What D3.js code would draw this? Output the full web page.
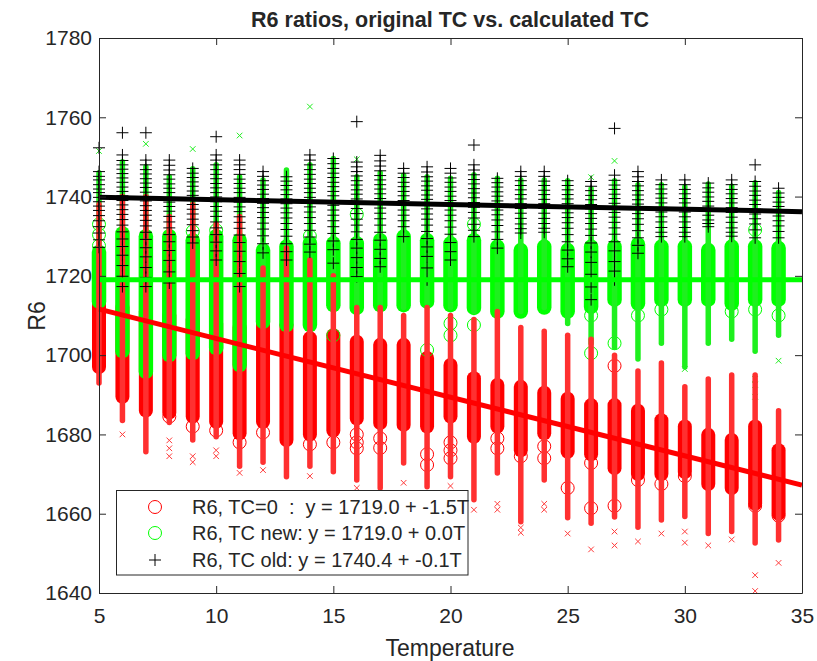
<!DOCTYPE html>
<html>
<head>
<meta charset="utf-8">
<script src="https://cdn.jsdelivr.net/npm/d3@7"></script>
<style>
body { margin: 0; background: #fff; }
text { font-family: "Liberation Sans", Arial, sans-serif; fill: #262626; }
</style>
</head>
<body>
<svg id="chart" width="817" height="661"></svg>
<script>
// temperatures (x categories)
var temps = [5,6,7,8,9,10,11,12,13,14,15,16,17,18,19,20,21,22,23,24,25,26,27,28,29,30,31,32,33,34];

// dense part of the circle columns, [low, high] per temperature
var redBand = [[1697,1715],[1689.5,1712],[1686,1711],[1685.5,1710],[1684.5,1709],[1683.2,1708],[1680.3,1707],[1683.2,1708.5],[1678.6,1707.6],[1680,1704.3],
  [1681,1705],[1684,1703.4],[1682.9,1702.6],[1682.4,1702.6],[1682,1699.3],[1684.5,1697.5],[1679.4,1694.2],[1682,1692.5],[1676,1692],[1680.3,1690.5],
  [1675.6,1689],[1675,1687.4],[1671.5,1687.4],[1670,1686],[1670,1683.6],[1670.5,1682],[1667.5,1679.9],[1666.5,1678.6],[1662.5,1682],[1660,1676]];
var greenBand = [[1713.5,1726],[1701,1730.7],[1695.8,1730],[1700,1730],[1700.5,1729],[1701.8,1730],[1697.5,1729],[1708.4,1726.5],[1707.6,1727.4],[1707.6,1728.3],
  [1712.6,1728.2],[1711.9,1728.2],[1712.6,1729],[1712.6,1729.9],[1713.5,1729],[1712.6,1728.2],[1711.9,1729],[1711,1727.4],[1711,1726.5],[1712,1727.4],
  [1711,1726.5],[1712.2,1727.4],[1714,1727.4],[1713,1728],[1714,1727.4],[1714,1727.4],[1714,1726.5],[1713,1727.4],[1714,1727.4],[1714,1727]];

// dense part of the small x markers, [low, high]
var redXBand = [[1693,1738],[1683.5,1740],[1675.6,1740],[1683,1735],[1678.6,1738],[1679.4,1733],[1672,1735],[1673,1722],[1669.3,1727],[1672,1724],
  [1670.6,1720],[1668.5,1712],[1666.5,1712],[1672.8,1710],[1666.8,1712],[1669.3,1710],[1663.5,1709],[1670.3,1711],[1658,1707],[1668.5,1706],
  [1659,1705],[1657.6,1704],[1659.2,1700],[1656.6,1696],[1658.4,1698],[1659.3,1692],[1655,1694],[1655.5,1695],[1652.6,1695],[1653.4,1686]];
var greenXBand = [[1713,1746],[1701,1748.8],[1696,1747.5],[1700,1745],[1700,1747],[1702,1748],[1698,1745],[1708,1744.2],[1707,1746.7],[1707,1748],
  [1712,1749.6],[1711,1745],[1712,1746],[1712,1745.4],[1713,1745],[1712,1744.6],[1711,1745.5],[1711,1744.6],[1711,1744.2],[1712,1744.2],
  [1708,1744],[1703,1742],[1702,1744],[1699,1743],[1703,1743],[1697,1742.5],[1703,1743.2],[1704,1742.6],[1701,1743.5],[1705,1741]];

// isolated circles
var redOpen = [[],[],[],[1684.5],[1682],[1681],[1678],[1680.5],[],[1677.5],
  [1678],[1680,1678,1676.5],[1679,1676.6],[],[1672.3,1675],[1678,1676,1674],[],[1679,1676.5],[1674.5],[1677,1674],
  [1666.5],[1672.8,1661.4],[1697.3,1662],[1668.5],[1667.5],[1669.5],[],[],[1662],[1659.5]];
var greenOpen = [[1727.6,1730.4,1733],[],[],[],[1731.2],[1731.5],[],[],[],[1730],
  [1705],[1735.5],[],[],[1701.3],[1708,1705],[1733,1707.6],[],[],[],
  [],[1710,1700.5],[1703],[1710],[1711.5],[],[],[1711],[1731.6,1711.5],[1710]];

// isolated x markers
var redCross = [[],[1680],[],[1678.5,1676.5,1674.5],[1674.5,1673],[1676,1674.5],[1670.3],[1671],[],[1669.5],
  [],[1666.5],[1664.5],[1667.8],[1664.5],[1667],[1661],[1662.5,1661],[1656.5,1655.2],[1662.5,1661],
  [1655],[1651],[1655.5,1652],[1653],[1655],[1655.5,1652.7],[1652],[1653.5],[1644.5,1640.5],[1647.6]];
var greenCross = [[1751.5],[],[1753.3],[],[1752],[],[1755.4],[],[],[1762.7],
  [],[1749.4],[],[],[],[],[],[],[],[],
  [],[1744.9],[1749],[],[],[1696.5],[],[],[1694,1692.5,1689.5],[1698.6]];

// TC old values (+ markers)
var blackPlus = [
  [1752.3,1746.3,1745.1,1744.2,1743,1741.9,1741,1739.8,1738.7,1737.6,1736.5,1735.2,1733.9,1732.4,1730.8,1729.1,1727.2],
  [1756.1,1750.5,1749.1,1748,1746.9,1745.8,1744.7,1743.6,1742.4,1741.3,1740.2,1739,1737.9,1736.7,1735.5,1734.2,1732.8,1731.1,1729.3,1727.4,1725.2,1722.6,1719.9,1717.3],
  [1756.1,1749.2,1748,1746.8,1745.7,1744.5,1743.4,1742.3,1741.1,1740,1738.9,1737.7,1736.5,1735.3,1734,1732.6,1731,1729.2,1727.1,1724.8,1722.1,1719.6,1717.3],
  [1749.2,1747.9,1746.7,1745.5,1744.4,1743.2,1742.1,1741,1739.8,1738.6,1737.5,1736.3,1735,1733.6,1732.1,1730.4,1728.6,1726.4,1723.9,1721,1718.2],
  [1747.1,1745.9,1744.8,1743.7,1742.6,1741.4,1740.3,1739.1,1738,1736.8,1735.6,1734.3,1732.9,1731.4,1729.8,1728.3],
  [1755.1,1750.5,1749.2,1748,1746.8,1745.6,1744.5,1743.3,1742.2,1741,1739.9,1738.7,1737.5,1736.3,1735,1733.6,1732.1,1730.4,1728.5,1726.3,1724],
  [1749.2,1748,1746.8,1745.6,1744.4,1743.3,1742.1,1741,1739.8,1738.6,1737.4,1736.2,1734.9,1733.5,1732,1730.3,1728.4,1726.2,1723.6,1720.6,1717.3],
  [1746.3,1745.1,1744,1742.9,1741.8,1740.6,1739.5,1738.3,1737.2,1736,1734.7,1733.3,1731.8,1730.1,1728.1,1725.8],
  [1745,1743.9,1742.8,1741.7,1740.5,1739.4,1738.2,1737.1,1735.9,1734.6,1733.2,1731.7,1730,1728.1,1726.1,1724],
  [1750.5,1749.2,1748,1746.8,1745.6,1744.4,1743.3,1742.1,1741,1739.8,1738.6,1737.4,1736.1,1734.7,1733.2,1731.5,1729.8,1728,1726],
  [1749.6,1748.3,1747.1,1745.9,1744.8,1743.6,1742.5,1741.3,1740.2,1739,1737.8,1736.6,1735.3,1733.9,1732.4,1730.7,1728.8,1726.6,1723.2],
  [1758.9,1748.7,1747.5,1746.3,1745.2,1744,1742.9,1741.7,1740.6,1739.4,1738.2,1737,1735.7,1734.3,1732.8,1731.1,1729.2,1727,1724.6,1722.1,1719.8],
  [1750.4,1749,1747.7,1746.5,1745.3,1744.2,1743,1741.9,1740.7,1739.5,1738.3,1737.1,1735.8,1734.4,1732.8,1731,1729,1726.7,1724.4,1722.3],
  [1747.1,1745.9,1744.8,1743.6,1742.5,1741.3,1740.2,1739,1737.8,1736.6,1735.3,1733.9,1732.4,1729.9],
  [1747.5,1746.2,1745,1743.9,1742.7,1741.6,1740.4,1739.3,1738.1,1736.9,1735.6,1734.3,1732.8,1731.2,1729.4,1727.3,1724.9,1722,1719],
  [1747.1,1745.9,1744.7,1743.6,1742.4,1741.3,1740.1,1739,1737.8,1736.6,1735.3,1733.9,1732.3,1730.5,1728.4,1726.1,1724],
  [1753,1748,1746.7,1745.5,1744.3,1743.2,1742,1740.9,1739.7,1738.5,1737.3,1736,1734.6,1733,1731.5,1729.9],
  [1744.6,1743.5,1742.4,1741.2,1740.1,1738.9,1737.8,1736.6,1735.4,1734.1,1732.7,1731.1,1729.2,1727],
  [1746.3,1745.1,1744,1742.8,1741.7,1740.5,1739.4,1738.2,1737,1735.8,1734.5,1733.1,1731.9,1730.8],
  [1746.3,1745.1,1743.9,1742.8,1741.6,1740.5,1739.3,1738.2,1737,1735.8,1734.5,1733.2,1732,1731],
  [1744,1742.8,1741.7,1740.5,1739.4,1738.2,1737.1,1735.9,1734.7,1733.4,1732,1730.4,1728.6,1726.5,1724.3,1722.3],
  [1743.8,1742.6,1741.5,1740.3,1739.2,1738,1736.9,1735.7,1734.5,1733.2,1731.8,1730.2,1728.3,1726,1723.4,1720.4,1717.2,1714],
  [1757.2,1745.4,1744.1,1742.9,1741.8,1740.6,1739.5,1738.3,1737.2,1736,1734.8,1733.5,1732.1,1730.5,1728.6,1726.3,1723.6,1721.2,1719],
  [1746.3,1745,1743.8,1742.7,1741.5,1740.4,1739.2,1738.1,1736.9,1735.7,1734.4,1733,1731.4,1729.6,1727.7,1725.7],
  [1744.2,1743,1741.9,1740.7,1739.6,1738.4,1737.3,1736.1,1734.9,1733.6,1732.2,1731,1729.9],
  [1744.2,1743,1741.8,1740.7,1739.5,1738.4,1737.2,1736.1,1734.9,1733.6,1732.2,1731,1729.9],
  [1743.4,1742.2,1741.1,1739.9,1738.8,1737.6,1736.5,1735.3,1734.1,1733.2,1732.4],
  [1744.2,1743,1741.8,1740.7,1739.5,1738.4,1737.2,1736,1734.8,1733.5,1732.1,1731,1730],
  [1748,1743.8,1742.6,1741.4,1740.3,1739.1,1738,1736.8,1735.6,1734.4,1733.1,1731.6,1729.6],
  [1742.1,1740.9,1739.8,1738.6,1737.5,1736.3,1735.1,1733.9,1732.6,1731.2,1729.6]
];

// linear fits: y = intercept + slope*T
var fitIntercept = [1719.0, 1719.0, 1740.4];
var fitSlope = [-1.48, 0.0, -0.12];
var fitColors = ["#ff0000", "#00ff00", "#000000"];
var legendLabels = ["R6, TC=0  :  y = 1719.0 + -1.5T", "R6, TC new: y = 1719.0 + 0.0T", "R6, TC old: y = 1740.4 + -0.1T"];

var xTicks = [5, 10, 15, 20, 25, 30, 35];
var yTicks = [1640, 1660, 1680, 1700, 1720, 1740, 1760, 1780];

var svg = d3.select("#chart");
var x = d3.scaleLinear().domain([5, 35]).range([99, 802]);
var y = d3.scaleLinear().domain([1640, 1780]).range([593, 38]);

var crossPath = "M-2.8,-2.8L2.8,2.8M-2.8,2.8L2.8,-2.8";
var plusPath = "M-6,0H6M0,-6V6";

function flat(lists) {
  var out = [];
  lists.forEach(function(vals, i) {
    vals.forEach(function(v) { out.push({t: temps[i], v: v}); });
  });
  return out;
}

function drawBands(bands, color, w) {
  svg.append("g").selectAll("rect")
    .data(bands)
    .enter().append("rect")
      .attr("x", function(d, i) { return x(temps[i]) - w / 2; })
      .attr("y", function(d) { return y(d[1]) - w / 2; })
      .attr("width", w)
      .attr("height", function(d) { return y(d[0]) - y(d[1]) + w; })
      .attr("rx", w / 2)
      .attr("fill", color);
}

function drawCircles(lists, color) {
  svg.append("g").selectAll("circle")
    .data(flat(lists))
    .enter().append("circle")
      .attr("cx", function(d) { return x(d.t); })
      .attr("cy", function(d) { return y(d.v); })
      .attr("r", 6.5)
      .attr("fill", "none")
      .attr("stroke", color)
      .attr("stroke-width", 1);
}

function drawMarks(lists, color, path) {
  svg.append("g").selectAll("path")
    .data(flat(lists))
    .enter().append("path")
      .attr("d", path)
      .attr("transform", function(d) { return "translate(" + x(d.t) + "," + y(d.v) + ")"; })
      .attr("fill", "none")
      .attr("stroke", color)
      .attr("stroke-width", 1);
}

// circles: TC=0 then TC new
drawBands(redBand, "#ff0000", 14);
drawCircles(redOpen, "#ff0000");
drawBands(greenBand, "#00ff00", 14.5);
drawCircles(greenOpen, "#00ff00");

// small x markers
drawBands(greenXBand, "#1ef01e", 5.5);
drawMarks(greenCross, "#22ee22", crossPath);
drawBands(redXBand, "#ff3030", 5.5);
drawMarks(redCross, "#ff3b3b", crossPath);

// TC old
drawMarks(blackPlus, "#000000", plusPath);

// fit lines
fitIntercept.forEach(function(a, k) {
  svg.append("line")
    .attr("x1", x(5)).attr("y1", y(a + fitSlope[k] * 5))
    .attr("x2", x(35)).attr("y2", y(a + fitSlope[k] * 35))
    .attr("stroke", fitColors[k])
    .attr("stroke-width", 5);
});

// axes box with inward ticks
var axisColor = "#262626";
svg.append("g")
  .attr("transform", "translate(0,593)")
  .call(d3.axisBottom(x).tickValues(xTicks).tickSize(-7).tickSizeOuter(0).tickPadding(15).tickFormat(d3.format("d")))
  .call(function(g) { g.selectAll("text").style("font-size", "21px"); });
svg.append("g")
  .attr("transform", "translate(0,38)")
  .call(d3.axisTop(x).tickValues(xTicks).tickSize(-7).tickSizeOuter(0).tickFormat(""));
svg.append("g")
  .attr("transform", "translate(99,0)")
  .call(d3.axisLeft(y).tickValues(yTicks).tickSize(-7).tickSizeOuter(0).tickPadding(7).tickFormat(d3.format("d")))
  .call(function(g) { g.selectAll("text").style("font-size", "21px"); });
svg.append("g")
  .attr("transform", "translate(802,0)")
  .call(d3.axisRight(y).tickValues(yTicks).tickSize(-7).tickSizeOuter(0).tickFormat(""));
svg.selectAll(".domain, .tick line").attr("stroke", axisColor);

// title and labels
svg.append("text")
  .attr("x", 450).attr("y", 27)
  .attr("text-anchor", "middle")
  .style("font-size", "21.5px").style("font-weight", "bold")
  .text("R6 ratios, original TC vs. calculated TC");
svg.append("text")
  .attr("x", 450).attr("y", 656)
  .attr("text-anchor", "middle")
  .style("font-size", "23px")
  .text("Temperature");
svg.append("text")
  .attr("transform", "translate(45,316) rotate(-90)")
  .attr("text-anchor", "middle")
  .style("font-size", "23px")
  .text("R6");

// legend
var lg = svg.append("g");
lg.append("rect")
  .attr("x", 116.5).attr("y", 490.5)
  .attr("width", 351.5).attr("height", 84.5)
  .attr("fill", "#fff").attr("stroke", axisColor).attr("stroke-width", 1);
var rowY = [507, 533, 560];
legendLabels.forEach(function(label, k) {
  if (k < 2) {
    lg.append("circle").attr("cx", 155).attr("cy", rowY[k]).attr("r", 6.5)
      .attr("fill", "none").attr("stroke", fitColors[k]).attr("stroke-width", 1);
  } else {
    lg.append("path").attr("d", plusPath)
      .attr("transform", "translate(155," + rowY[k] + ")")
      .attr("stroke", "#000").attr("stroke-width", 1);
  }
  lg.append("text")
    .attr("x", 192).attr("y", rowY[k] + 7)
    .attr("xml:space", "preserve")
    .style("white-space", "pre")
    .style("font-size", "20px")
    .text(label);
});
</script>
</body>
</html>
